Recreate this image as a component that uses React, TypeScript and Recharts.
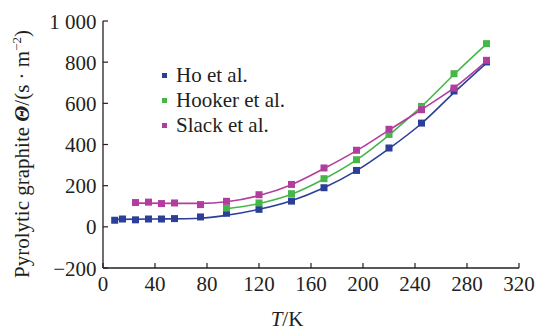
import React from "react";
import { ComposedChart, Line, Scatter, XAxis, YAxis, Legend } from "recharts";

// ---- data ----
const xTicks = [0, 40, 80, 120, 160, 200, 240, 280, 320];
const yTicks = [-200, 0, 200, 400, 600, 800, 1000];

const seriesNames = ["Ho et al.", "Hooker et al.", "Slack et al."];
const seriesColors = ["#2b3f98", "#45b74a", "#b23d9f"];

// measured points (T in K, value)
const hoT = [9, 15, 25, 35, 45, 55, 75, 95, 120, 145, 170, 195, 220, 245, 270, 295];
const hoValues = [32, 38, 34, 38, 38, 40, 48, 66, 85, 125, 190, 274, 383, 504, 660, 801];

const hookerT = [95, 120, 145, 170, 195, 220, 245, 270, 295];
const hookerValues = [91, 116, 161, 234, 326, 449, 585, 744, 890];

const slackT = [25, 35, 45, 55, 75, 95, 120, 145, 170, 195, 220, 245, 270, 295];
const slackValues = [118, 120, 113, 116, 108, 124, 156, 206, 286, 372, 474, 569, 674, 809];

// fitted curves
const hoFitT = [9, 40, 75, 95, 120, 145, 170, 195, 220, 245, 270, 295];
const hoFitValues = [36, 38, 42, 56, 85, 127, 190, 273, 380, 502, 652, 796];

const hookerFitT = [95, 120, 145, 170, 195, 220, 245, 270, 295];
const hookerFitValues = [88, 113, 158, 232, 325, 446, 585, 740, 888];

const slackFitT = [25, 55, 75, 95, 120, 145, 170, 195, 220, 245, 270, 295];
const slackFitValues = [115, 114, 114, 122, 152, 205, 283, 370, 470, 570, 675, 805];

const zip = (ts: number[], vs: number[]) => ts.map((t, i) => ({ x: t, y: vs[i] }));

const hoPts = zip(hoT, hoValues);
const hookerPts = zip(hookerT, hookerValues);
const slackPts = zip(slackT, slackValues);
const hoFit = zip(hoFitT, hoFitValues);
const hookerFit = zip(hookerFitT, hookerFitValues);
const slackFit = zip(slackFitT, slackFitValues);

const FONT = "Liberation Serif, Times New Roman, serif";
const AXIS = "#231f20";
const TXT: React.CSSProperties = { fontFamily: FONT };
const FS = 21;

const fmtY = (v: number) => (v === 1000 ? "1 000" : v < 0 ? "\u2212" + Math.abs(v) : String(v));

const XTick = (props: any) => {
  const { x, y, payload } = props;
  return (
    <g>
      <line x1={x} x2={x} y1={y} y2={y - 5} stroke={AXIS} strokeWidth={1.2} />
      <text x={x} y={y + 22.5} textAnchor="middle" style={TXT} fontSize={FS} fill="#231f20">
        {payload.value}
      </text>
    </g>
  );
};

const YTick = (props: any) => {
  const { x, y, payload } = props;
  return (
    <g>
      <line x1={x} x2={x + 5} y1={y} y2={y} stroke={AXIS} strokeWidth={1.2} />
      <text x={x - 6.5} y={y + 7.5} textAnchor="end" style={TXT} fontSize={FS} fill="#231f20">
        {fmtY(payload.value)}
      </text>
    </g>
  );
};

const YLabel = () => (
  <text transform="translate(28.5,154) rotate(-90)" textAnchor="middle" style={TXT} fontSize={FS} fill="#231f20">
    <tspan>Pyrolytic graphite </tspan>
    <tspan fontWeight="bold" fontStyle="italic">Θ</tspan>
    <tspan>/(s · m</tspan>
    <tspan fontSize={13} dy={-8}>−2</tspan>
    <tspan dy={8}>)</tspan>
  </text>
);

const XLabel = () => (
  <text x={287} y={325.5} textAnchor="middle" style={TXT} fontSize={FS} fill="#231f20">
    <tspan fontStyle="italic">T</tspan>
    <tspan>/K</tspan>
  </text>
);

const square = (color: string) => (props: any) => {
  const { cx, cy } = props;
  if (cx == null || cy == null) return <g />;
  return <rect x={cx - 3.5} y={cy - 3.5} width={7} height={7} fill={color} />;
};

const renderLegend = () => (
  <div style={{ fontFamily: FONT, fontSize: FS, color: "#231f20", lineHeight: "25px" }}>
    {seriesNames.map((n, i) => (
      <div key={n} style={{ display: "flex", alignItems: "center", height: 25 }}>
        <span
          style={{ display: "inline-block", width: 5, height: 5, background: seriesColors[i], marginRight: 9 }}
        />
        <span>{n}</span>
      </div>
    ))}
  </div>
);

export default function App() {
  return (
    <div style={{ position: "absolute", left: 0, top: 0, width: 538, height: 331, background: "#fff" }}>
      <ComposedChart width={538} height={331} margin={{ top: 21, right: 19, bottom: 33, left: 0 }}>
        <XAxis
          type="number"
          dataKey="x"
          domain={[0, 320]}
          ticks={xTicks}
          allowDataOverflow
          height={30}
          tickSize={0}
          tickMargin={0}
          tickLine={false}
          axisLine={{ stroke: AXIS, strokeWidth: 1.3 }}
          tick={<XTick />}
          label={<XLabel />}
        />
        <YAxis
          type="number"
          dataKey="y"
          domain={[-200, 1000]}
          ticks={yTicks}
          allowDataOverflow
          width={103}
          tickSize={0}
          tickMargin={0}
          tickLine={false}
          axisLine={{ stroke: AXIS, strokeWidth: 1.3 }}
          tick={<YTick />}
          label={<YLabel />}
        />
        <Legend
          content={renderLegend}
          layout="horizontal"
          verticalAlign="middle"
          align="center"
          wrapperStyle={{ position: "absolute", left: 162, top: 63, width: 170, height: 80 }}
        />
        <Line data={hoFit} dataKey="y" type="monotone" stroke={seriesColors[0]} strokeWidth={1.6} dot={false} isAnimationActive={false} legendType="none" />
        <Line data={hookerFit} dataKey="y" type="monotone" stroke={seriesColors[1]} strokeWidth={1.6} dot={false} isAnimationActive={false} legendType="none" />
        <Line data={slackFit} dataKey="y" type="monotone" stroke={seriesColors[2]} strokeWidth={1.6} dot={false} isAnimationActive={false} legendType="none" />
        <Scatter name={seriesNames[0]} data={hoPts} dataKey="y" fill={seriesColors[0]} shape={square(seriesColors[0])} isAnimationActive={false} />
        <Scatter name={seriesNames[1]} data={hookerPts} dataKey="y" fill={seriesColors[1]} shape={square(seriesColors[1])} isAnimationActive={false} />
        <Scatter name={seriesNames[2]} data={slackPts} dataKey="y" fill={seriesColors[2]} shape={square(seriesColors[2])} isAnimationActive={false} />
      </ComposedChart>
    </div>
  );
}
